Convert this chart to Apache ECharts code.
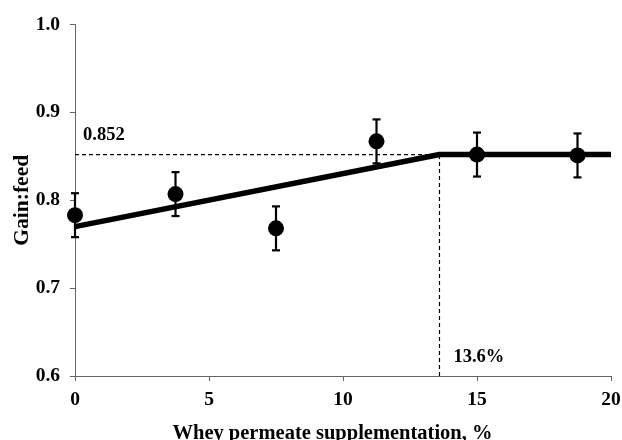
<!DOCTYPE html>
<html>
<head>
<meta charset="utf-8">
<script src="https://cdn.jsdelivr.net/npm/echarts@6/dist/echarts.min.js"></script>
<style>
    html, body { margin: 0; padding: 0; background: #fff; }
    #chart { width: 622px; height: 440px; }
</style>
</head>
<body>
<div id="chart"></div>
<script>
    // supplementation level (%) and measured gain:feed
    var doses = [0, 3.75, 7.5, 11.25, 15, 18.75];
    var gainFeed = [0.783, 0.807, 0.768, 0.867, 0.852, 0.851];
    var sem = [0.025, 0.025, 0.025, 0.025, 0.025, 0.025];

    // broken-line fit
    var fitX = [0, 13.6, 20];
    var fitY = [0.770, 0.852, 0.852];
    var breakX = 13.6;
    var plateau = 0.852;

    var xTicks = [0, 5, 10, 15, 20];
    var yTicks = [0.6, 0.7, 0.8, 0.9, 1.0];

    var font = '"Liberation Serif", "Times New Roman", serif';

    var chartDom = document.getElementById('chart');
    var myChart = echarts.init(chartDom);

    var points = doses.map(function (d, i) { return [d, gainFeed[i]]; });
    var errData = doses.map(function (d, i) { return [d, gainFeed[i] - sem[i], gainFeed[i] + sem[i]]; });
    var fitData = fitX.map(function (x, i) { return [x, fitY[i]]; });

    var option = {
        animation: false,
        grid: { left: 75, right: 11, top: 24.5, bottom: 64, containLabel: false, outerBoundsMode: 'none' },
        xAxis: {
            type: 'value',
            min: xTicks[0],
            max: xTicks[xTicks.length - 1],
            interval: 5,
            name: 'Whey permeate supplementation, %',
            nameLocation: 'middle',
            nameGap: 47,
            nameMoveOverlap: false,
            nameTextStyle: { fontFamily: font, fontWeight: 'bold', fontSize: 20.5, color: '#000', padding: [0, 21, 0, 0] },
            axisLine: { lineStyle: { color: '#666', width: 1 } },
            axisTick: { show: true, inside: false, length: 5, lineStyle: { color: '#666' } },
            axisLabel: { margin: 14, fontFamily: font, fontWeight: 'bold', fontSize: 19.5, color: '#000' },
            splitLine: { show: false }
        },
        yAxis: {
            type: 'value',
            min: yTicks[0],
            max: yTicks[yTicks.length - 1],
            interval: 0.1,
            name: 'Gain:feed',
            nameLocation: 'middle',
            nameGap: 42,
            nameMoveOverlap: false,
            nameTextStyle: { fontFamily: font, fontWeight: 'bold', fontSize: 21.5, color: '#000' },
            axisLine: { show: true, lineStyle: { color: '#666', width: 1 } },
            axisTick: { show: true, inside: false, length: 5, lineStyle: { color: '#666' } },
            axisLabel: {
                margin: 15, fontFamily: font, fontWeight: 'bold', fontSize: 19.5, color: '#000',
                formatter: function (v) { return v.toFixed(1); }
            },
            splitLine: { show: false }
        },
        series: [
            {
                name: 'plateau',
                type: 'line',
                data: [[0, plateau], [breakX, plateau]],
                symbol: 'none',
                lineStyle: { color: '#000', width: 1.2, type: [4, 3] },
                z: 1
            },
            {
                name: 'breakpoint',
                type: 'line',
                data: [[breakX, yTicks[0]], [breakX, plateau]],
                symbol: 'none',
                lineStyle: { color: '#000', width: 1.2, type: [4, 3] },
                z: 1
            },
            {
                name: 'fit',
                type: 'line',
                data: fitData,
                symbol: 'none',
                lineStyle: { color: '#000', width: 5.5 },
                z: 2
            },
            {
                name: 'sem',
                type: 'custom',
                data: errData,
                renderItem: function (params, api) {
                    var x = api.value(0);
                    var lo = api.coord([x, api.value(1)]);
                    var hi = api.coord([x, api.value(2)]);
                    var cap = 4;
                    var style = { stroke: '#000', lineWidth: 2.2 };
                    return {
                        type: 'group',
                        children: [
                            { type: 'line', shape: { x1: lo[0], y1: lo[1], x2: hi[0], y2: hi[1] }, style: style },
                            { type: 'line', shape: { x1: lo[0] - cap, y1: lo[1], x2: lo[0] + cap, y2: lo[1] }, style: style },
                            { type: 'line', shape: { x1: hi[0] - cap, y1: hi[1], x2: hi[0] + cap, y2: hi[1] }, style: style }
                        ]
                    };
                },
                z: 3
            },
            {
                name: 'Gain:feed',
                type: 'scatter',
                data: points,
                symbol: 'circle',
                symbolSize: 16,
                itemStyle: { color: '#000', opacity: 1 },
                z: 4
            },
            {
                name: 'labels',
                type: 'scatter',
                symbolSize: 0,
                itemStyle: { color: '#000', opacity: 1 },
                data: [
                    { value: [0, plateau], label: { formatter: plateau.toFixed(3), offset: [3, -19] } },
                    { value: [breakX, yTicks[0]], label: { formatter: breakX.toFixed(1) + '%', offset: [9, -19] } }
                ],
                label: {
                    show: true,
                    position: 'right',
                    distance: 5,
                    fontFamily: font,
                    fontWeight: 'bold',
                    fontSize: 18.5,
                    color: '#000'
                },
                z: 5
            }
        ]
    };

    option && myChart.setOption(option);
</script>
</body>
</html>
